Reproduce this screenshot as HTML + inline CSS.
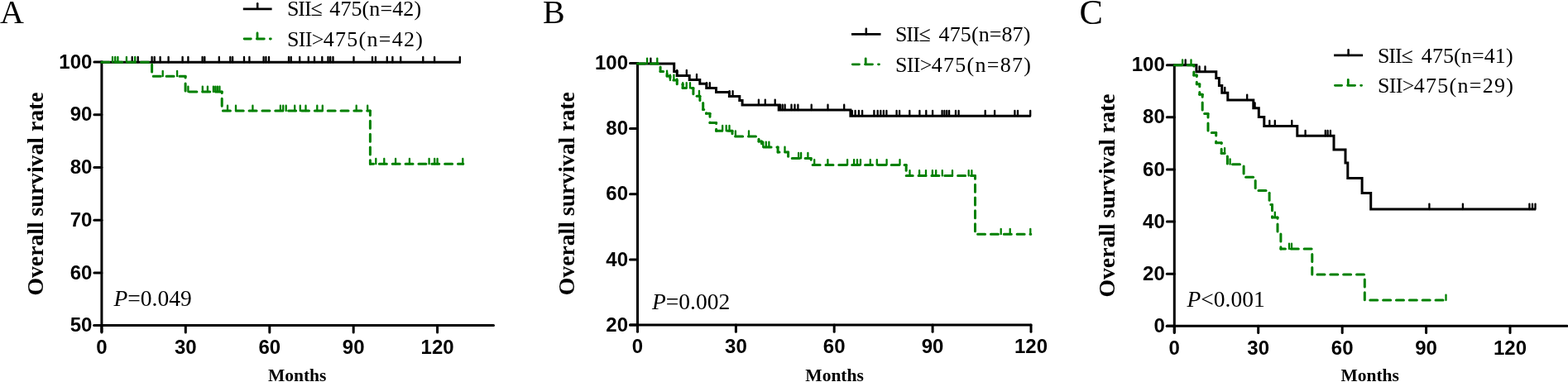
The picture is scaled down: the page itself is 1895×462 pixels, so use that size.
<!DOCTYPE html>
<html><head><meta charset="utf-8"><title>Overall survival</title>
<style>
html,body{margin:0;padding:0;background:#fff;}
body{width:1895px;height:462px;overflow:hidden;}
svg{display:block;}
.tk{font-family:'Liberation Sans', Arial, sans-serif;font-weight:bold;font-size:24px;fill:#000;}
.let{font-family:'Liberation Serif', 'Times New Roman', serif;font-size:40px;fill:#000;}
.ylab{font-family:'Liberation Serif', 'Times New Roman', serif;font-weight:bold;font-size:27.7px;fill:#000;}
.xlab{font-family:'Liberation Serif', 'Times New Roman', serif;font-weight:bold;font-size:21.5px;fill:#000;}
.pv{font-family:'Liberation Serif', 'Times New Roman', serif;font-size:27.5px;fill:#000;}
.lg{font-family:'Liberation Serif', 'Times New Roman', serif;font-size:26px;fill:#000;}
</style></head>
<body>
<svg width="1895" height="462" viewBox="0 0 1895 462">
<rect width="1895" height="462" fill="#fff"/>
<path d="M122.9,73.5 V401.9" stroke="#000" stroke-width="3.0" fill="none" stroke-linecap="butt"/>
<path d="M113.9,393.6 H596.5" stroke="#000" stroke-width="3.0" fill="none" stroke-linecap="round"/>
<path d="M113.9,393.6 H122.9" stroke="#000" stroke-width="3.0" fill="none" stroke-linecap="round"/>
<text x="111.4" y="401.2" class="tk" text-anchor="end">50</text>
<path d="M113.9,329.9 H122.9" stroke="#000" stroke-width="3.0" fill="none" stroke-linecap="round"/>
<text x="111.4" y="337.5" class="tk" text-anchor="end">60</text>
<path d="M113.9,266.2 H122.9" stroke="#000" stroke-width="3.0" fill="none" stroke-linecap="round"/>
<text x="111.4" y="273.8" class="tk" text-anchor="end">70</text>
<path d="M113.9,202.4 H122.9" stroke="#000" stroke-width="3.0" fill="none" stroke-linecap="round"/>
<text x="111.4" y="210.0" class="tk" text-anchor="end">80</text>
<path d="M113.9,138.7 H122.9" stroke="#000" stroke-width="3.0" fill="none" stroke-linecap="round"/>
<text x="111.4" y="146.3" class="tk" text-anchor="end">90</text>
<path d="M113.9,75.0 H122.9" stroke="#000" stroke-width="3.0" fill="none" stroke-linecap="round"/>
<text x="111.4" y="82.6" class="tk" text-anchor="end">100</text>
<path d="M122.9,393.6 V401.9" stroke="#000" stroke-width="3.0" fill="none" stroke-linecap="round"/>
<text x="122.9" y="427.8" class="tk" text-anchor="middle">0</text>
<path d="M224.3,393.6 V401.9" stroke="#000" stroke-width="3.0" fill="none" stroke-linecap="round"/>
<text x="224.3" y="427.8" class="tk" text-anchor="middle">30</text>
<path d="M325.8,393.6 V401.9" stroke="#000" stroke-width="3.0" fill="none" stroke-linecap="round"/>
<text x="325.8" y="427.8" class="tk" text-anchor="middle">60</text>
<path d="M427.2,393.6 V401.9" stroke="#000" stroke-width="3.0" fill="none" stroke-linecap="round"/>
<text x="427.2" y="427.8" class="tk" text-anchor="middle">90</text>
<path d="M528.6,393.6 V401.9" stroke="#000" stroke-width="3.0" fill="none" stroke-linecap="round"/>
<text x="528.6" y="427.8" class="tk" text-anchor="middle">120</text>
<text x="0.0" y="28.0" class="let">A</text>
<text transform="translate(51.5,234.5) rotate(-90)" class="ylab" text-anchor="middle">Overall survival rate</text>
<text x="359.2" y="460.8" class="xlab" text-anchor="middle">Months</text>
<text x="137.5" y="370.3" class="pv"><tspan font-style="italic">P</tspan>=0.049</text>
<path d="M770.5,75.0 V401.3" stroke="#000" stroke-width="3.0" fill="none" stroke-linecap="butt"/>
<path d="M761.5,393.0 H1246.0" stroke="#000" stroke-width="3.0" fill="none" stroke-linecap="round"/>
<path d="M761.5,393.0 H770.5" stroke="#000" stroke-width="3.0" fill="none" stroke-linecap="round"/>
<text x="759.0" y="400.6" class="tk" text-anchor="end">20</text>
<path d="M761.5,313.9 H770.5" stroke="#000" stroke-width="3.0" fill="none" stroke-linecap="round"/>
<text x="759.0" y="321.5" class="tk" text-anchor="end">40</text>
<path d="M761.5,234.8 H770.5" stroke="#000" stroke-width="3.0" fill="none" stroke-linecap="round"/>
<text x="759.0" y="242.3" class="tk" text-anchor="end">60</text>
<path d="M761.5,155.6 H770.5" stroke="#000" stroke-width="3.0" fill="none" stroke-linecap="round"/>
<text x="759.0" y="163.2" class="tk" text-anchor="end">80</text>
<path d="M761.5,76.5 H770.5" stroke="#000" stroke-width="3.0" fill="none" stroke-linecap="round"/>
<text x="759.0" y="84.1" class="tk" text-anchor="end">100</text>
<path d="M770.5,393.0 V401.3" stroke="#000" stroke-width="3.0" fill="none" stroke-linecap="round"/>
<text x="770.5" y="427.2" class="tk" text-anchor="middle">0</text>
<path d="M889.4,393.0 V401.3" stroke="#000" stroke-width="3.0" fill="none" stroke-linecap="round"/>
<text x="889.4" y="427.2" class="tk" text-anchor="middle">30</text>
<path d="M1008.2,393.0 V401.3" stroke="#000" stroke-width="3.0" fill="none" stroke-linecap="round"/>
<text x="1008.2" y="427.2" class="tk" text-anchor="middle">60</text>
<path d="M1127.1,393.0 V401.3" stroke="#000" stroke-width="3.0" fill="none" stroke-linecap="round"/>
<text x="1127.1" y="427.2" class="tk" text-anchor="middle">90</text>
<path d="M1246.0,393.0 V401.3" stroke="#000" stroke-width="3.0" fill="none" stroke-linecap="round"/>
<text x="1246.0" y="427.2" class="tk" text-anchor="middle">120</text>
<text x="656.0" y="28.0" class="let">B</text>
<text transform="translate(693.5,234.2) rotate(-90)" class="ylab" text-anchor="middle">Overall survival rate</text>
<text x="1008.6" y="460.8" class="xlab" text-anchor="middle">Months</text>
<text x="788.0" y="374.0" class="pv"><tspan font-style="italic">P</tspan>=0.002</text>
<path d="M1419.3,77.2 V402.6" stroke="#000" stroke-width="3.0" fill="none" stroke-linecap="butt"/>
<path d="M1410.3,394.3 H1894.0" stroke="#000" stroke-width="3.0" fill="none" stroke-linecap="round"/>
<path d="M1410.3,394.3 H1419.3" stroke="#000" stroke-width="3.0" fill="none" stroke-linecap="round"/>
<text x="1407.8" y="401.9" class="tk" text-anchor="end">0</text>
<path d="M1410.3,331.2 H1419.3" stroke="#000" stroke-width="3.0" fill="none" stroke-linecap="round"/>
<text x="1407.8" y="338.8" class="tk" text-anchor="end">20</text>
<path d="M1410.3,268.1 H1419.3" stroke="#000" stroke-width="3.0" fill="none" stroke-linecap="round"/>
<text x="1407.8" y="275.7" class="tk" text-anchor="end">40</text>
<path d="M1410.3,204.9 H1419.3" stroke="#000" stroke-width="3.0" fill="none" stroke-linecap="round"/>
<text x="1407.8" y="212.5" class="tk" text-anchor="end">60</text>
<path d="M1410.3,141.8 H1419.3" stroke="#000" stroke-width="3.0" fill="none" stroke-linecap="round"/>
<text x="1407.8" y="149.4" class="tk" text-anchor="end">80</text>
<path d="M1410.3,78.7 H1419.3" stroke="#000" stroke-width="3.0" fill="none" stroke-linecap="round"/>
<text x="1407.8" y="86.3" class="tk" text-anchor="end">100</text>
<path d="M1419.3,394.3 V402.6" stroke="#000" stroke-width="3.0" fill="none" stroke-linecap="round"/>
<text x="1419.3" y="428.5" class="tk" text-anchor="middle">0</text>
<path d="M1520.7,394.3 V402.6" stroke="#000" stroke-width="3.0" fill="none" stroke-linecap="round"/>
<text x="1520.7" y="428.5" class="tk" text-anchor="middle">30</text>
<path d="M1622.2,394.3 V402.6" stroke="#000" stroke-width="3.0" fill="none" stroke-linecap="round"/>
<text x="1622.2" y="428.5" class="tk" text-anchor="middle">60</text>
<path d="M1723.6,394.3 V402.6" stroke="#000" stroke-width="3.0" fill="none" stroke-linecap="round"/>
<text x="1723.6" y="428.5" class="tk" text-anchor="middle">90</text>
<path d="M1825.0,394.3 V402.6" stroke="#000" stroke-width="3.0" fill="none" stroke-linecap="round"/>
<text x="1825.0" y="428.5" class="tk" text-anchor="middle">120</text>
<text x="1304.6" y="28.8" class="let" style="font-size:42.5px">C</text>
<text transform="translate(1347.0,236.5) rotate(-90)" class="ylab" text-anchor="middle">Overall survival rate</text>
<text x="1655.7" y="460.8" class="xlab" text-anchor="middle">Months</text>
<text x="1434.5" y="371.3" class="pv"><tspan font-style="italic">P</tspan><0.001</text>
<path d="M122.9,75.3 H556.8" stroke="#000" stroke-width="3.0" fill="none" stroke-linejoin="miter" stroke-linecap="butt"/>
<path d="M159.7,75.3 V68.9 M166.7,75.3 V68.9 M183.6,75.3 V68.9 M186.7,75.3 V68.9 M193.6,75.3 V68.9 M203.6,75.3 V68.9 M220.6,75.3 V68.9 M227.4,75.3 V68.9 M244.6,75.3 V68.9 M247.3,75.3 V68.9 M264.8,75.3 V68.9 M278.3,75.3 V68.9 M281.1,75.3 V68.9 M295.0,75.3 V68.9 M301.4,75.3 V68.9 M318.6,75.3 V68.9 M321.4,75.3 V68.9 M325.0,75.3 V68.9 M349.0,75.3 V68.9 M351.7,75.3 V68.9 M362.2,75.3 V68.9 M372.8,75.3 V68.9 M380.0,75.3 V68.9 M389.3,75.3 V68.9 M396.5,75.3 V68.9 M399.2,75.3 V68.9 M402.5,75.3 V68.9 M427.5,75.3 V68.9 M450.0,75.3 V68.9 M453.9,75.3 V68.9 M467.8,75.3 V68.9 M474.4,75.3 V68.9 M484.2,75.3 V68.9 M511.3,75.3 V68.9 M525.1,75.3 V68.9 M555.8,75.3 V68.9" stroke="#000" stroke-width="2.3" fill="none" stroke-linecap="round"/>
<g stroke="#008000" stroke-width="3.0" fill="none" stroke-dasharray="9.0 6.85" stroke-linecap="round"><path d="M122.90,75.30 H183.60" stroke-dashoffset="0.00"/><path d="M183.60,75.30 V92.20" stroke-dashoffset="13.15"/><path d="M183.60,92.20 H224.10" stroke-dashoffset="14.20"/><path d="M224.10,92.20 V111.00" stroke-dashoffset="7.15"/><path d="M224.10,111.00 H268.20" stroke-dashoffset="11.07"/><path d="M268.20,111.00 V134.10" stroke-dashoffset="7.62"/><path d="M268.20,134.10 H447.40" stroke-dashoffset="14.67"/><path d="M447.40,134.10 V198.30" stroke-dashoffset="3.67"/><path d="M447.40,198.30 H559.80" stroke-dashoffset="4.87"/></g>
<path d="M136.0,75.3 V68.9 M139.2,75.3 V68.9 M142.4,75.3 V68.9 M152.9,75.3 V68.9 M163.2,75.3 V68.9 M196.7,92.2 V85.8 M214.1,92.2 V85.8 M227.4,111.0 V104.6 M244.8,111.0 V104.6 M250.9,111.0 V104.6 M257.9,111.0 V104.6 M260.3,111.0 V104.6 M262.8,111.0 V104.6 M265.4,111.0 V104.6 M275.0,134.1 V127.7 M285.0,134.1 V127.7 M305.4,134.1 V127.7 M338.9,134.1 V127.7 M342.2,134.1 V127.7 M345.7,134.1 V127.7 M356.2,134.1 V127.7 M362.8,134.1 V127.7 M369.5,134.1 V127.7 M383.3,134.1 V127.7 M389.8,134.1 V127.7 M430.7,134.1 V127.7 M444.2,134.1 V127.7 M454.3,198.3 V191.9 M464.3,198.3 V191.9 M478.1,198.3 V191.9 M494.9,198.3 V191.9 M518.6,198.3 V191.9 M525.2,198.3 V191.9 M528.6,198.3 V191.9 M559.3,198.3 V191.9" stroke="#008000" stroke-width="2.3" fill="none" stroke-linecap="round"/>
<path d="M770.5,77.0 H814.7 V86.6 H818.2 V91.4 H833.2 V96.4 H845.8 V101.3 H853.8 V106.6 H865.5 V111.6 H881.4 V116.5 H893.8 V121.4 H897.1 V127.0 H941.2 V133.1 H1027.9 V140.2 H1245.7" stroke="#000" stroke-width="3.0" fill="none" stroke-linejoin="miter" stroke-linecap="butt"/>
<path d="M786.4,77.0 V70.6 M818.2,91.4 V85.0 M829.8,91.4 V85.0 M842.0,96.4 V90.0 M854.0,106.6 V100.2 M857.8,106.6 V100.2 M881.6,116.5 V110.1 M885.6,116.5 V110.1 M916.9,127.0 V120.6 M924.8,127.0 V120.6 M936.7,127.0 V120.6 M943.0,133.1 V126.7 M945.7,133.1 V126.7 M948.6,133.1 V126.7 M956.5,133.1 V126.7 M960.5,133.1 V126.7 M964.4,133.1 V126.7 M980.7,133.1 V126.7 M1000.5,133.1 V126.7 M1020.2,133.1 V126.7 M1029.8,140.2 V133.8 M1033.6,140.2 V133.8 M1037.9,140.2 V133.8 M1042.1,140.2 V133.8 M1056.4,140.2 V133.8 M1060.7,140.2 V133.8 M1064.3,140.2 V133.8 M1067.9,140.2 V133.8 M1071.4,140.2 V133.8 M1083.6,140.2 V133.8 M1087.1,140.2 V133.8 M1099.3,140.2 V133.8 M1111.4,140.2 V133.8 M1119.3,140.2 V133.8 M1127.1,140.2 V133.8 M1138.6,140.2 V133.8 M1141.4,140.2 V133.8 M1144.3,140.2 V133.8 M1147.1,140.2 V133.8 M1155.0,140.2 V133.8 M1158.6,140.2 V133.8 M1190.7,140.2 V133.8 M1202.1,140.2 V133.8 M1226.4,140.2 V133.8 M1230.0,140.2 V133.8 M1245.2,140.2 V133.8" stroke="#000" stroke-width="2.3" fill="none" stroke-linecap="round"/>
<g stroke="#008000" stroke-width="3.0" fill="none" stroke-dasharray="9.0 6.85" stroke-linecap="round"><path d="M770.50,77.00 H798.10" stroke-dashoffset="0.00"/><path d="M798.10,77.00 V86.60" stroke-dashoffset="11.75"/><path d="M798.10,86.60 H806.10" stroke-dashoffset="5.50"/><path d="M806.10,86.60 V92.10" stroke-dashoffset="13.50"/><path d="M806.10,92.10 H809.90" stroke-dashoffset="3.15"/><path d="M809.90,92.10 V97.00" stroke-dashoffset="6.95"/><path d="M809.90,97.00 H818.20" stroke-dashoffset="11.85"/><path d="M818.20,97.00 V101.80" stroke-dashoffset="4.30"/><path d="M818.20,101.80 H825.10" stroke-dashoffset="9.10"/><path d="M825.10,101.80 V106.60" stroke-dashoffset="0.15"/><path d="M825.10,106.60 H837.90" stroke-dashoffset="4.95"/><path d="M837.90,106.60 V116.30" stroke-dashoffset="1.90"/><path d="M837.90,116.30 H845.90" stroke-dashoffset="11.60"/><path d="M845.90,116.30 V123.00" stroke-dashoffset="3.75"/><path d="M845.90,123.00 H849.70" stroke-dashoffset="10.45"/><path d="M849.70,123.00 V132.60" stroke-dashoffset="14.25"/><path d="M849.70,132.60 H853.50" stroke-dashoffset="8.00"/><path d="M853.50,132.60 V137.30" stroke-dashoffset="11.80"/><path d="M853.50,137.30 H858.00" stroke-dashoffset="0.65"/><path d="M858.00,137.30 V148.50" stroke-dashoffset="5.15"/><path d="M858.00,148.50 H865.60" stroke-dashoffset="0.50"/><path d="M865.60,148.50 V158.30" stroke-dashoffset="8.10"/><path d="M865.60,158.30 H885.00" stroke-dashoffset="2.05"/><path d="M885.00,158.30 V164.90" stroke-dashoffset="5.60"/><path d="M885.00,164.90 H917.00" stroke-dashoffset="12.20"/><path d="M917.00,164.90 V171.00" stroke-dashoffset="12.50"/><path d="M917.00,171.00 H920.50" stroke-dashoffset="2.75"/><path d="M920.50,171.00 V178.00" stroke-dashoffset="6.25"/><path d="M920.50,178.00 H940.10" stroke-dashoffset="13.25"/><path d="M940.10,178.00 V184.00" stroke-dashoffset="1.15"/><path d="M940.10,184.00 H952.60" stroke-dashoffset="7.15"/><path d="M952.60,184.00 V191.40" stroke-dashoffset="3.80"/><path d="M952.60,191.40 H980.20" stroke-dashoffset="11.20"/><path d="M980.20,191.40 V199.50" stroke-dashoffset="7.10"/><path d="M980.20,199.50 H1095.20" stroke-dashoffset="13.93"/><path d="M1095.20,199.50 V212.60" stroke-dashoffset="2.13"/><path d="M1095.20,212.60 H1178.50" stroke-dashoffset="0.98"/><path d="M1178.50,212.60 V283.20" stroke-dashoffset="5.32"/><path d="M1178.50,283.20 H1245.80" stroke-dashoffset="12.77"/></g>
<path d="M782.1,77.0 V70.6 M794.3,77.0 V70.6 M806.1,92.1 V85.7 M809.9,97.0 V90.6 M814.4,97.0 V90.6 M818.2,101.8 V95.4 M825.2,106.6 V100.2 M829.7,106.6 V100.2 M834.0,106.6 V100.2 M845.0,116.3 V109.9 M873.2,158.3 V151.9 M877.7,158.3 V151.9 M881.5,158.3 V151.9 M888.9,164.9 V158.5 M905.0,164.9 V158.5 M922.3,178.0 V171.6 M925.8,178.0 V171.6 M929.4,178.0 V171.6 M948.5,184.0 V177.6 M965.1,191.4 V185.0 M968.1,191.4 V185.0 M976.4,191.4 V185.0 M984.2,199.5 V193.1 M1000.4,199.5 V193.1 M1024.1,199.5 V193.1 M1032.1,199.5 V193.1 M1036.0,199.5 V193.1 M1040.0,199.5 V193.1 M1051.8,199.5 V193.1 M1059.8,199.5 V193.1 M1071.6,199.5 V193.1 M1087.5,199.5 V193.1 M1099.5,212.6 V206.2 M1111.1,212.6 V206.2 M1119.0,212.6 V206.2 M1126.9,212.6 V206.2 M1131.2,212.6 V206.2 M1138.8,212.6 V206.2 M1151.0,212.6 V206.2 M1170.7,212.6 V206.2 M1174.4,212.6 V206.2 M1209.7,283.2 V276.8 M1220.7,283.2 V276.8 M1245.3,283.2 V276.8" stroke="#008000" stroke-width="2.3" fill="none" stroke-linecap="round"/>
<path d="M1419.3,78.7 H1445.9 V86.8 H1469.8 V94.6 H1473.4 V103.6 H1476.8 V112.2 H1483.8 V121.0 H1514.8 V130.7 H1521.3 V141.5 H1527.8 V152.4 H1567.8 V164.3 H1612.0 V180.9 H1626.0 V197.1 H1628.8 V215.5 H1646.1 V233.4 H1656.7 V253.0 H1856.0" stroke="#000" stroke-width="3.0" fill="none" stroke-linejoin="miter" stroke-linecap="butt"/>
<path d="M1432.7,78.7 V72.3 M1449.6,86.8 V80.4 M1456.5,86.8 V80.4 M1480.3,112.2 V105.8 M1507.2,121.0 V114.6 M1516.6,130.7 V124.3 M1534.3,152.4 V146.0 M1540.8,152.4 V146.0 M1561.3,152.4 V146.0 M1577.6,164.3 V157.9 M1601.8,164.3 V157.9 M1604.6,164.3 V157.9 M1607.9,164.3 V157.9 M1727.4,253.0 V246.6 M1767.9,253.0 V246.6 M1848.4,253.0 V246.6 M1852.0,253.0 V246.6 M1855.5,253.0 V246.6" stroke="#000" stroke-width="2.3" fill="none" stroke-linecap="round"/>
<g stroke="#008000" stroke-width="3.0" fill="none" stroke-dasharray="9.0 6.85" stroke-linecap="round"><path d="M1419.30,78.70 H1442.80" stroke-dashoffset="0.00"/><path d="M1442.80,78.70 V90.90" stroke-dashoffset="7.65"/><path d="M1442.80,90.90 H1446.30" stroke-dashoffset="4.00"/><path d="M1446.30,90.90 V101.80" stroke-dashoffset="7.50"/><path d="M1446.30,101.80 H1449.80" stroke-dashoffset="2.55"/><path d="M1449.80,101.80 V114.20" stroke-dashoffset="6.05"/><path d="M1449.80,114.20 H1453.20" stroke-dashoffset="2.60"/><path d="M1453.20,114.20 V137.40" stroke-dashoffset="6.00"/><path d="M1453.20,137.40 H1460.00" stroke-dashoffset="13.35"/><path d="M1460.00,137.40 V160.50" stroke-dashoffset="4.30"/><path d="M1460.00,160.50 H1469.70" stroke-dashoffset="11.55"/><path d="M1469.70,160.50 V172.70" stroke-dashoffset="5.40"/><path d="M1469.70,172.70 H1476.20" stroke-dashoffset="1.75"/><path d="M1476.20,172.70 V185.50" stroke-dashoffset="8.25"/><path d="M1476.20,185.50 H1483.40" stroke-dashoffset="5.20"/><path d="M1483.40,185.50 V198.70" stroke-dashoffset="12.40"/><path d="M1483.40,198.70 H1503.10" stroke-dashoffset="9.75"/><path d="M1503.10,198.70 V214.30" stroke-dashoffset="13.60"/><path d="M1503.10,214.30 H1517.20" stroke-dashoffset="13.35"/><path d="M1517.20,214.30 V230.60" stroke-dashoffset="11.60"/><path d="M1517.20,230.60 H1534.10" stroke-dashoffset="12.05"/><path d="M1534.10,230.60 V247.50" stroke-dashoffset="13.10"/><path d="M1534.10,247.50 H1537.50" stroke-dashoffset="14.15"/><path d="M1537.50,247.50 V263.00" stroke-dashoffset="1.70"/><path d="M1537.50,263.00 H1544.00" stroke-dashoffset="1.35"/><path d="M1544.00,263.00 V282.00" stroke-dashoffset="7.85"/><path d="M1544.00,282.00 H1547.90" stroke-dashoffset="11.00"/><path d="M1547.90,282.00 V301.00" stroke-dashoffset="14.90"/><path d="M1547.90,301.00 H1585.80" stroke-dashoffset="3.48"/><path d="M1585.80,301.00 V331.90" stroke-dashoffset="9.28"/><path d="M1585.80,331.90 H1649.30" stroke-dashoffset="9.68"/><path d="M1649.30,331.90 V363.00" stroke-dashoffset="9.82"/><path d="M1649.30,363.00 H1747.90" stroke-dashoffset="9.37"/></g>
<path d="M1429.1,78.7 V72.3 M1439.5,78.7 V72.3 M1480.1,185.5 V179.1 M1486.6,198.7 V192.3 M1540.8,263.0 V256.6 M1558.0,301.0 V294.6 M1561.0,301.0 V294.6 M1747.5,363.0 V356.6" stroke="#008000" stroke-width="2.3" fill="none" stroke-linecap="round"/>
<path d="M293.8,10.8 H328.6" stroke="#000" stroke-width="2.8" fill="none"/>
<path d="M311.2,10.8 V4.2" stroke="#000" stroke-width="2.5" fill="none" stroke-linecap="round"/>
<path d="M295.1,47.0 H303.3 M310.3,47.0 H319.3 M326.3,47.0 H327.3 M311.0,47.0 V40.0" stroke="#008000" stroke-width="2.8" fill="none" stroke-linecap="round"/>
<text x="347.0" y="19.3" class="lg"><tspan letter-spacing="-1.1">SII≤</tspan><tspan x="398.3">&#160;</tspan><tspan x="398.3" letter-spacing="0.1">475(n=42)</tspan></text>
<text x="347.0" y="55.5" class="lg"><tspan letter-spacing="-0.7">SII&gt;</tspan><tspan letter-spacing="1.3">475(n=42)</tspan></text>
<path d="M1029.0,41.4 H1064.5" stroke="#000" stroke-width="2.8" fill="none"/>
<path d="M1046.8,41.4 V34.8" stroke="#000" stroke-width="2.5" fill="none" stroke-linecap="round"/>
<path d="M1030.3,77.8 H1038.5 M1045.5,77.8 H1054.5 M1061.5,77.8 H1062.5 M1046.2,77.8 V70.8" stroke="#008000" stroke-width="2.8" fill="none" stroke-linecap="round"/>
<text x="1082.0" y="50.3" class="lg"><tspan letter-spacing="-1.1">SII≤</tspan><tspan x="1134.6">&#160;</tspan><tspan x="1134.6" letter-spacing="0.1">475(n=87)</tspan></text>
<text x="1082.0" y="86.7" class="lg"><tspan letter-spacing="-0.7">SII&gt;</tspan><tspan letter-spacing="1.3">475(n=87)</tspan></text>
<path d="M1612.1,66.89999999999999 H1647.1" stroke="#000" stroke-width="2.8" fill="none"/>
<path d="M1629.6,66.89999999999999 V60.3" stroke="#000" stroke-width="2.5" fill="none" stroke-linecap="round"/>
<path d="M1613.4,103.3 H1621.6 M1628.6,103.3 H1637.6 M1644.6,103.3 H1645.6 M1629.3,103.3 V96.3" stroke="#008000" stroke-width="2.8" fill="none" stroke-linecap="round"/>
<text x="1665.0" y="75.8" class="lg"><tspan letter-spacing="-1.1">SII≤</tspan><tspan x="1717.8">&#160;</tspan><tspan x="1717.8" letter-spacing="0.1">475(n=41)</tspan></text>
<text x="1665.0" y="112.2" class="lg"><tspan letter-spacing="-0.7">SII&gt;</tspan><tspan letter-spacing="1.3">475(n=29)</tspan></text>
</svg>
</body></html>
